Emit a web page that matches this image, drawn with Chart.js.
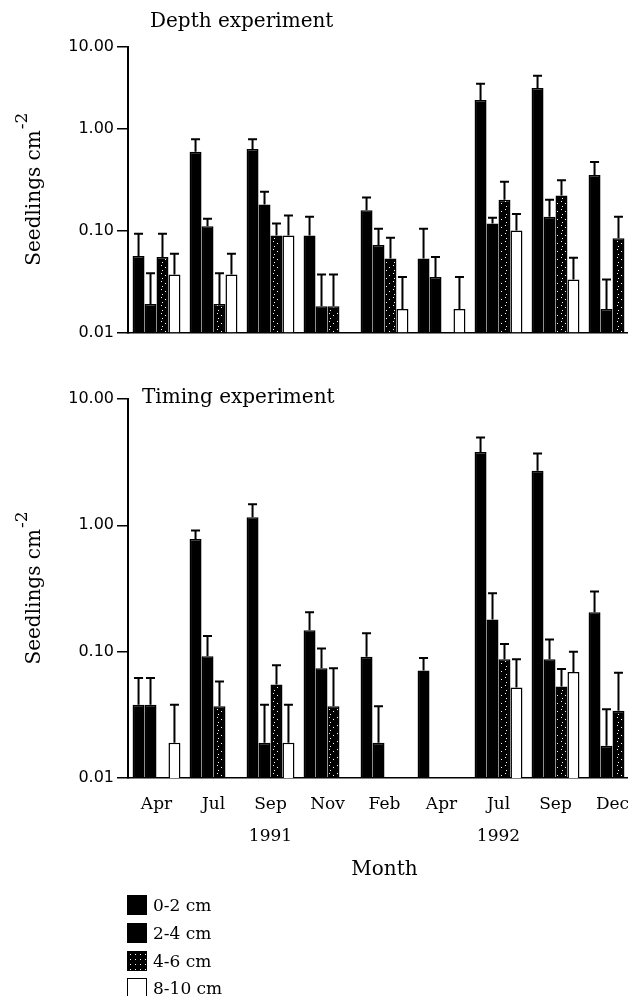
<!DOCTYPE html>
<html>
<head>
<meta charset="utf-8">
<script src="https://cdn.jsdelivr.net/npm/chart.js@4/dist/chart.umd.min.js"></script>
<style>
    html, body { margin: 0; padding: 0; background: #fff; overflow: hidden; }
    #wrap { position: relative; width: 628px; height: 996px; overflow: hidden; }
    #depthChart { position: absolute; left: 0; top: 0; }
    #timingChart { position: absolute; left: 0; top: 380px; }
    .legend-row { position: absolute; left: 127px; height: 20px; display: flex; align-items: center;
        font: 17px "DejaVu Serif", serif; color: #000; }
    .swatch { width: 18px; height: 18px; border: 1px solid #000; margin-right: 6px; box-sizing: content-box; }
</style>
</head>
<body>
<div id="wrap">
    <canvas id="depthChart" width="641" height="345"></canvas>
    <canvas id="timingChart" width="641" height="616"></canvas>
    <div class="legend-row" style="top:895px"><div class="swatch" style="background:#000"></div>0-2 cm</div>
    <div class="legend-row" style="top:923px"><div class="swatch" style="background:#000"></div>2-4 cm</div>
    <div class="legend-row" style="top:951px"><div class="swatch" id="stippleSwatch" style="background:#111"></div>4-6 cm</div>
    <div class="legend-row" style="top:978px"><div class="swatch" style="background:#fff"></div>8-10 cm</div>
</div>
<script>
// Month categories (two-line labels carry the year)
const months = ['Apr', 'Jul', ['Sep', '1991'], 'Nov', 'Feb', 'Apr', ['Jul', '1992'], 'Sep', 'Dec'];
const depthLabels = ['0-2 cm', '2-4 cm', '4-6 cm', '8-10 cm'];

// Depth experiment: means and top of error bars (seedlings cm-2)
const depth0_2 = [0.056, 0.59, 0.63, 0.089, 0.158, 0.053, 1.9, 2.5, 0.35];
const depth0_2Err = [0.093, 0.785, 0.785, 0.136, 0.21, 0.104, 2.75, 3.3, 0.47];
const depth2_4 = [0.019, 0.11, 0.18, 0.018, 0.072, 0.035, 0.117, 0.136, 0.017];
const depth2_4Err = [0.038, 0.13, 0.24, 0.037, 0.104, 0.055, 0.133, 0.2, 0.033];
const depth4_6 = [0.055, 0.019, 0.089, 0.018, 0.053, null, 0.2, 0.22, 0.084];
const depth4_6Err = [0.093, 0.038, 0.117, 0.037, 0.085, null, 0.3, 0.31, 0.136];
const depth8_10 = [0.037, 0.037, 0.089, null, 0.017, 0.017, 0.1, 0.033, null];
const depth8_10Err = [0.059, 0.059, 0.14, null, 0.035, 0.035, 0.145, 0.054, null];

// Timing experiment
const timing0_2 = [0.038, 0.78, 1.16, 0.148, 0.091, 0.071, 3.8, 2.7, 0.205];
const timing0_2Err = [0.062, 0.91, 1.47, 0.205, 0.14, 0.089, 4.96, 3.7, 0.3];
const timing2_4 = [0.038, 0.092, 0.019, 0.074, 0.019, null, 0.18, 0.087, 0.018];
const timing2_4Err = [0.062, 0.133, 0.038, 0.106, 0.037, null, 0.29, 0.125, 0.035];
const timing4_6 = [null, 0.037, 0.055, 0.037, null, null, 0.087, 0.053, 0.034];
const timing4_6Err = [null, 0.058, 0.078, 0.074, null, null, 0.115, 0.073, 0.068];
const timing8_10 = [0.019, null, 0.019, null, null, null, 0.052, 0.069, null];
const timing8_10Err = [0.038, null, 0.038, null, null, null, 0.087, 0.1, null];

// y ticks; the top panel's axis is shorter than a full decade but still labelled 10.00
const yTicks = [0.01, 0.1, 1, 10];
const depthTop = 6.3;

// stippled fill for 4-6 cm: mostly black with sparse white specks
function makeStipple() {
    const c = document.createElement('canvas');
    c.width = 8; c.height = 8;
    const g = c.getContext('2d');
    g.fillStyle = '#000';
    g.fillRect(0, 0, 8, 8);
    g.fillStyle = '#fff';
    [[1, 1], [5, 3], [2, 6]].forEach(([x, y]) => g.fillRect(x, y, 1, 1));
    return g.createPattern(c, 'repeat');
}
const stipple = makeStipple();
document.getElementById('stippleSwatch').style.background =
    'radial-gradient(#fff 0.6px, transparent 0.9px) 0 0/5px 5px, #000';

const fills = ['#000', '#000', stipple, '#fff'];

function buildDatasets(series, errs) {
    return series.map((data, i) => ({
        label: depthLabels[i],
        data: data,
        errTop: errs[i],
        backgroundColor: fills[i],
        borderColor: '#000',
        borderWidth: 1.5,
        barPercentage: 1,
        categoryPercentage: 0.84
    }));
}

// error bars: line from the bar top up to mean + SE, with a cap
const errorBars = {
    id: 'errorBars',
    afterDatasetsDraw(chart) {
        const ctx = chart.ctx;
        const yScale = chart.scales.y;
        ctx.save();
        ctx.strokeStyle = '#000';
        ctx.lineWidth = 2;
        chart.data.datasets.forEach((ds, i) => {
            chart.getDatasetMeta(i).data.forEach((bar, j) => {
                const top = ds.errTop[j];
                if (top == null || ds.data[j] == null) return;
                const yTop = yScale.getPixelForValue(top);
                ctx.beginPath();
                ctx.moveTo(bar.x, bar.y);
                ctx.lineTo(bar.x, yTop);
                ctx.moveTo(bar.x - 4.5, yTop);
                ctx.lineTo(bar.x + 4.5, yTop);
                ctx.stroke();
            });
        });
        ctx.restore();
    }
};

// panel caption and rotated y title with superscript
const panelText = {
    id: 'panelText',
    afterDraw(chart, args, opts) {
        const ctx = chart.ctx;
        ctx.save();
        ctx.fillStyle = '#000';
        ctx.font = '20px "DejaVu Serif"';
        ctx.textBaseline = 'alphabetic';
        ctx.fillText(opts.caption, opts.captionX, opts.captionY);

        const area = chart.chartArea;
        const main = 'Seedlings cm';
        const sup = '-2';
        ctx.font = '20px "DejaVu Serif"';
        const w1 = ctx.measureText(main).width;
        ctx.font = '17px "DejaVu Serif"';
        const w2 = ctx.measureText(sup).width;
        ctx.translate(opts.titleX, (area.top + area.bottom) / 2);
        ctx.rotate(-Math.PI / 2);
        const start = -(w1 + w2) / 2;
        ctx.font = '20px "DejaVu Serif"';
        ctx.fillText(main, start, 0);
        ctx.font = '17px "DejaVu Serif"';
        ctx.fillText(sup, start + w1 + 1, -13);
        ctx.restore();
    }
};

function makeOptions(yMax, topLabel, caption, captionX, captionY, showMonths, xHeight) {
    return {
        responsive: false,
        animation: false,
        devicePixelRatio: 1,
        layout: { padding: { top: showMonths ? 19 : 47, left: 0, right: 0, bottom: showMonths ? 108 : 0 } },
        plugins: {
            legend: { display: false },
            tooltip: { enabled: false },
            panelText: { caption, captionX, captionY, titleX: 40 }
        },
        scales: {
            x: {
                grid: { display: false, drawTicks: false },
                border: { color: '#000', width: 1.5 },
                ticks: {
                    display: showMonths,
                    color: '#000',
                    padding: 11,
                    font: { family: '"DejaVu Serif"', size: 17, lineHeight: 1.85 },
                    maxRotation: 0,
                    autoSkip: false
                },
                title: {
                    display: showMonths,
                    text: 'Month',
                    color: '#000',
                    font: { family: '"DejaVu Serif"', size: 20, lineHeight: 1.2 },
                    padding: { top: 0, bottom: 6 }
                },
                afterFit: s => { s.height = xHeight; }
            },
            y: {
                type: 'logarithmic',
                min: 0.01,
                max: yMax,
                grid: { drawOnChartArea: false, drawTicks: true, tickLength: 11, color: '#000', lineWidth: 1.5 },
                border: { color: '#000', width: 2 },
                afterBuildTicks: s => {
                    s.ticks = yTicks.map(v => ({ value: Math.min(v, yMax) }));
                },
                ticks: {
                    color: '#000',
                    padding: 3,
                    font: { family: '"DejaVu Sans"', size: 16 },
                    callback: v => (v === yMax ? topLabel : Number(v).toFixed(2))
                },
                afterFit: s => { s.width = 128; }
            }
        }
    };
}

new Chart(document.getElementById('depthChart'), {
    type: 'bar',
    data: {
        labels: months,
        datasets: buildDatasets([depth0_2, depth2_4, depth4_6, depth8_10],
            [depth0_2Err, depth2_4Err, depth4_6Err, depth8_10Err])
    },
    options: makeOptions(depthTop, '10.00', 'Depth experiment', 150, 27, false, 7),
    plugins: [errorBars, panelText]
});

new Chart(document.getElementById('timingChart'), {
    type: 'bar',
    data: {
        labels: months,
        datasets: buildDatasets([timing0_2, timing2_4, timing4_6, timing8_10],
            [timing0_2Err, timing2_4Err, timing4_6Err, timing8_10Err])
    },
    options: makeOptions(10, '10.00', 'Timing experiment', 142, 23, true, 110),
    plugins: [errorBars, panelText]
});
</script>
</body>
</html>
